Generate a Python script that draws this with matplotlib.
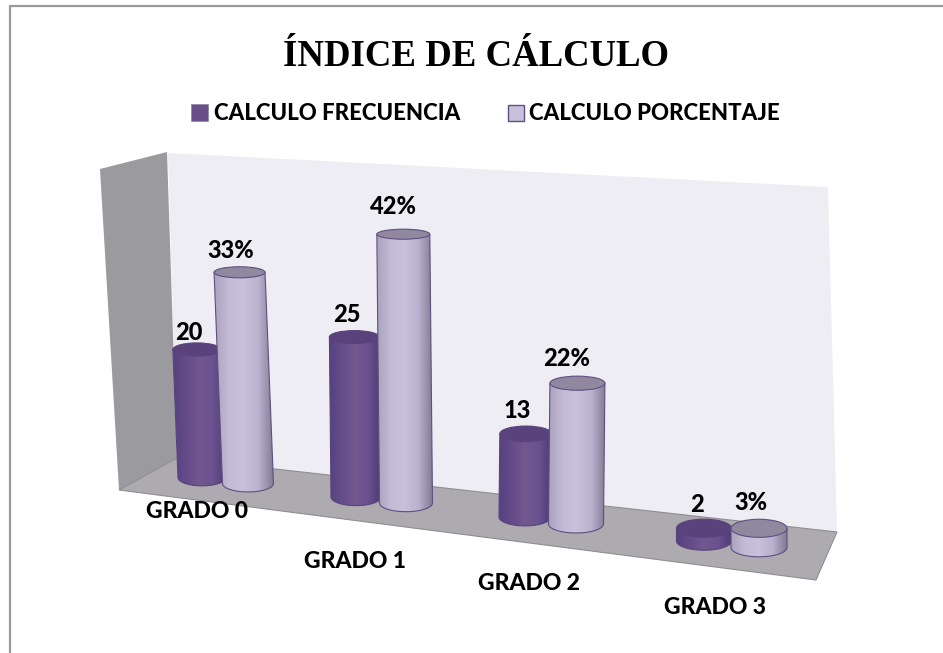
import numpy as np
import matplotlib
matplotlib.use("Agg")
import matplotlib.pyplot as plt
from matplotlib.colors import LinearSegmentedColormap
from matplotlib.patches import Ellipse, Polygon, Rectangle, PathPatch
from matplotlib.path import Path

categories = ["GRADO 0", "GRADO 1", "GRADO 2", "GRADO 3"]
frecuencia = [20, 25, 13, 2]
porcentaje = [33, 42, 22, 3]
frec_labels = ["20", "25", "13", "2"]
porc_labels = ["33%", "42%", "22%", "3%"]
series_names = ["CALCULO FRECUENCIA", "CALCULO PORCENTAJE"]
title = "ÍNDICE DE CÁLCULO"

# layout, in image pixels
W, H = 943, 653
scale = 6.4
lean = [0.04, 0.01, -0.01, 0.0]
frec_base = [(202, 477.5), (356, 497), (525, 517), (704, 541)]
porc_base = [(248, 483.5), (406, 503), (576, 524), (759, 547.5)]
frec_rad = [24, 25, 26, 27.5]
porc_rad = [25.5, 26.5, 27.5, 28]
cat_pos = [(197, 511), (355, 561), (529, 584), (715, 607)]
frec_lab_pos = [(189, 332), (347, 315), (517, 411), (697, 505)]
porc_lab_pos = [(231, 251), (393, 207), (567, 358), (751, 503)]

frec_cols = ["#574180", "#654c8a", "#72588f", "#6a5190", "#4f3b72"]
porc_cols = ["#aaa3bd", "#c4bcd6", "#c9c1dc", "#b9b1cd", "#7f7a92"]
frec_top = "#5a437c"
porc_top = "#8f889f"

fig = plt.figure(figsize=(W / 100, H / 100), dpi=100)
ax = fig.add_axes([0, 0, 1, 1])
ax.set_xlim(0, W)
ax.set_ylim(H, 0)
ax.axis("off")

ax.plot([943, 10, 10], [6, 6, 653], color="#999999", lw=1.6, zorder=1, solid_capstyle="butt")

ax.add_patch(Polygon([(168, 153), (828, 187), (837, 532), (177, 458)], fc="#eeedf4", ec="none", zorder=1))
ax.add_patch(Polygon([(100, 169), (167, 152), (177, 458), (119, 490)], fc="#9b9a9e", ec="none", zorder=1))
ax.add_patch(Polygon([(177, 458), (837, 532), (816, 580), (119, 490)], fc="#adabb0", ec="#8e8d91", lw=0.8, zorder=1.5))


def ry_at(y):
    # the ellipses get rounder further down the picture
    return 5 + 0.0137 * (y - 233)


def cylinder(cx, base, rad, height, tilt, cols, top_col, edge, z):
    tx = cx - height * tilt
    ty = base - height
    ry = ry_at(base)
    t = np.linspace(0, np.pi, 40)
    bx = cx + rad * np.cos(t)
    by = base + ry * np.sin(t)
    verts = [(tx + rad, ty)] + list(zip(bx, by)) + [(tx - rad, ty), (tx + rad, ty)]
    codes = [Path.MOVETO] + [Path.LINETO] * (len(verts) - 2) + [Path.CLOSEPOLY]
    body = PathPatch(Path(verts, codes), fc="none", ec=edge, lw=0.8, zorder=z + 0.1)
    ax.add_patch(body)
    cmap = LinearSegmentedColormap.from_list("c", cols)
    grad = np.linspace(0, 1, 128).reshape(1, -1)
    im = ax.imshow(grad, cmap=cmap, extent=[min(tx, cx) - rad, max(tx, cx) + rad, base + ry, ty - ry],
                   aspect="auto", zorder=z, interpolation="bilinear")
    im.set_clip_path(body)
    ax.add_patch(Ellipse((tx, ty), 2 * rad, 2 * ry_at(ty), fc=top_col, ec=edge, lw=0.8, zorder=z + 0.2))


for i in range(len(categories)):
    cx, by = frec_base[i]
    cylinder(cx, by, frec_rad[i], frecuencia[i] * scale, lean[i], frec_cols, frec_top, "#5a437c", 3)
    cx, by = porc_base[i]
    cylinder(cx, by, porc_rad[i], porcentaje[i] * scale, lean[i], porc_cols, porc_top, "#5f4f80", 4)

ax.set_xlim(0, W)
ax.set_ylim(H, 0)

bold = dict(family="Lato", fontweight=900, color="black", ha="center", va="center", zorder=6)
for i in range(len(categories)):
    ax.text(frec_lab_pos[i][0], frec_lab_pos[i][1], frec_labels[i], fontsize=17, **bold)
    ax.text(porc_lab_pos[i][0], porc_lab_pos[i][1], porc_labels[i], fontsize=17, **bold)
    ax.text(cat_pos[i][0], cat_pos[i][1], categories[i], fontsize=16.5, **bold)

ax.text(476, 57, title, family="Liberation Serif", fontweight="bold", fontsize=26.5, ha="center", va="center", color="black")

ax.add_patch(Rectangle((191, 104), 17, 17, fc="#684f8a", ec="#8d80a5", lw=0.5))
ax.text(214, 113, series_names[0], fontsize=16, **{**bold, "ha": "left"})
ax.add_patch(Rectangle((508, 105), 16, 16, fc="#c9c1dc", ec="#5f4f80", lw=1))
ax.text(529, 113, series_names[1], fontsize=16, **{**bold, "ha": "left"})

fig.savefig("out.png", dpi=100)
